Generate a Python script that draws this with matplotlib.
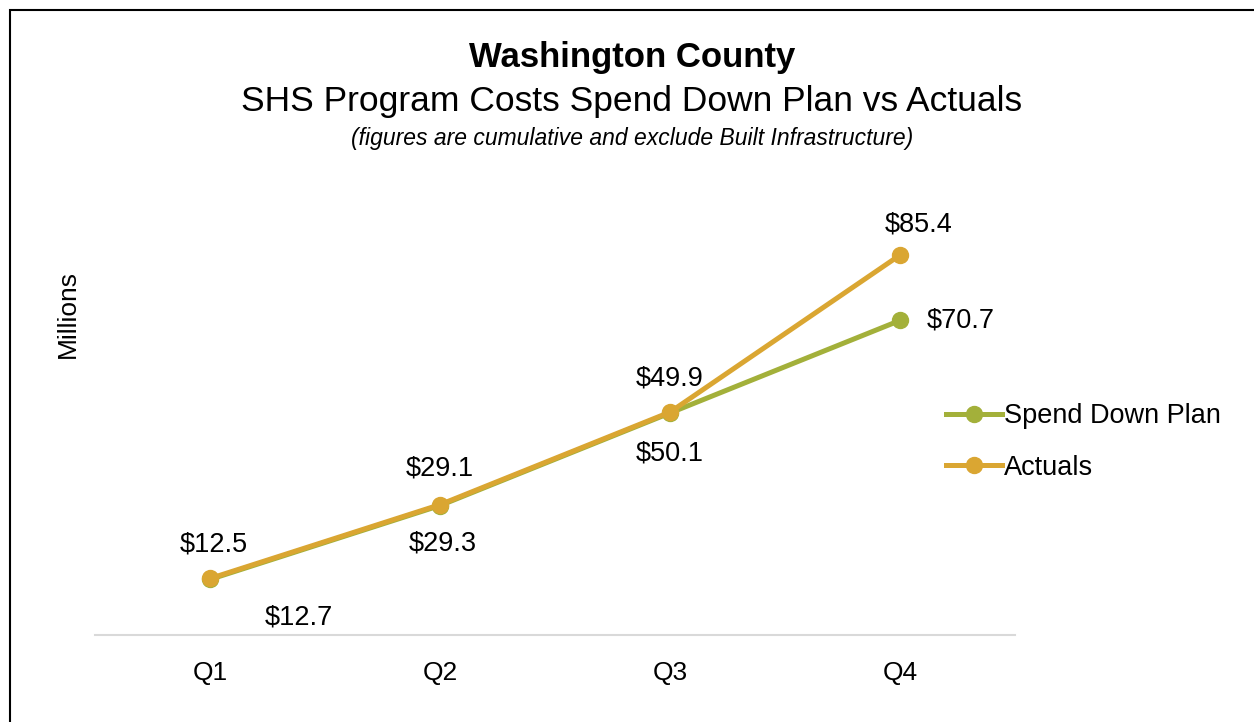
import matplotlib
matplotlib.use("Agg")
import matplotlib.pyplot as plt
from matplotlib.patches import Rectangle

plt.rcParams['font.family'] = ['Liberation Sans', 'DejaVu Sans']

# data
quarters = ['Q1', 'Q2', 'Q3', 'Q4']
plan = [12.5, 29.1, 49.9, 70.7]
actuals = [12.7, 29.3, 50.1, 85.4]
plan_labels = ['$12.5', '$29.1', '$49.9', '$70.7']
actual_labels = ['$12.7', '$29.3', '$50.1', '$85.4']

# label offsets in points (x, y)
plan_offsets = [(3, 25), (0, 27), (0, 25), (44, 0)]
actual_offsets = [(64, -28), (2, -28), (0, -30), (13, 22)]

green = '#A3B03A'
gold = '#DAA632'

fig = plt.figure(figsize=(12.54, 7.22), dpi=100)
ax = fig.add_axes([0.0758, 0.1205, 0.7337, 0.6163])

x = range(len(quarters))
ax.plot(x, plan, color=green, lw=3.6, marker='o', ms=11.5, label='Spend Down Plan')
ax.plot(x, actuals, color=gold, lw=3.6, marker='o', ms=11.5, label='Actuals')

for i in x:
    ax.annotate(plan_labels[i], (i, plan[i]), xytext=plan_offsets[i], textcoords='offset points',
                ha='center', va='center', fontsize=19.5)
    ax.annotate(actual_labels[i], (i, actuals[i]), xytext=actual_offsets[i], textcoords='offset points',
                ha='center', va='center', fontsize=19.5)

ax.set_xlim(-0.5, 3.5)
ax.set_ylim(0, 100)
ax.set_xticks(list(x))
ax.set_xticklabels(quarters, fontsize=19)
ax.tick_params(axis='x', length=0, pad=19)
ax.set_yticks([])
for s in ['top', 'right', 'left']:
    ax.spines[s].set_visible(False)
ax.spines['bottom'].set_color('#D9D9D9')
ax.spines['bottom'].set_linewidth(1.5)

fig.text(68 / 1254, 1 - 314 / 722, 'Millions', rotation=90, ha='center', va='center', fontsize=19)

fig.text(632 / 1254, 1 - 57 / 722, 'Washington County', ha='center', va='center',
         fontsize=25, fontweight='bold')
fig.text(632 / 1254, 1 - 102 / 722, 'SHS Program Costs Spend Down Plan vs Actuals', ha='center',
         va='center', fontsize=25.5)
fig.text(632 / 1254, 1 - 138 / 722, '(figures are cumulative and exclude Built Infrastructure)',
         ha='center', va='center', fontsize=16.5, style='italic')

leg = fig.legend(loc='center left', bbox_to_anchor=(946 / 1254, 1 - 442 / 722), frameon=False,
                 fontsize=19.5, handlelength=2.05, handletextpad=0.1, labelspacing=0.95,
                 borderpad=0, borderaxespad=0)

fig.patches.append(Rectangle((10 / 1254, -0.1), 1.5, 1.1 - 10 / 722, transform=fig.transFigure,
                             fill=False, edgecolor='black', lw=1.5))

fig.savefig('out.png', dpi=100)
